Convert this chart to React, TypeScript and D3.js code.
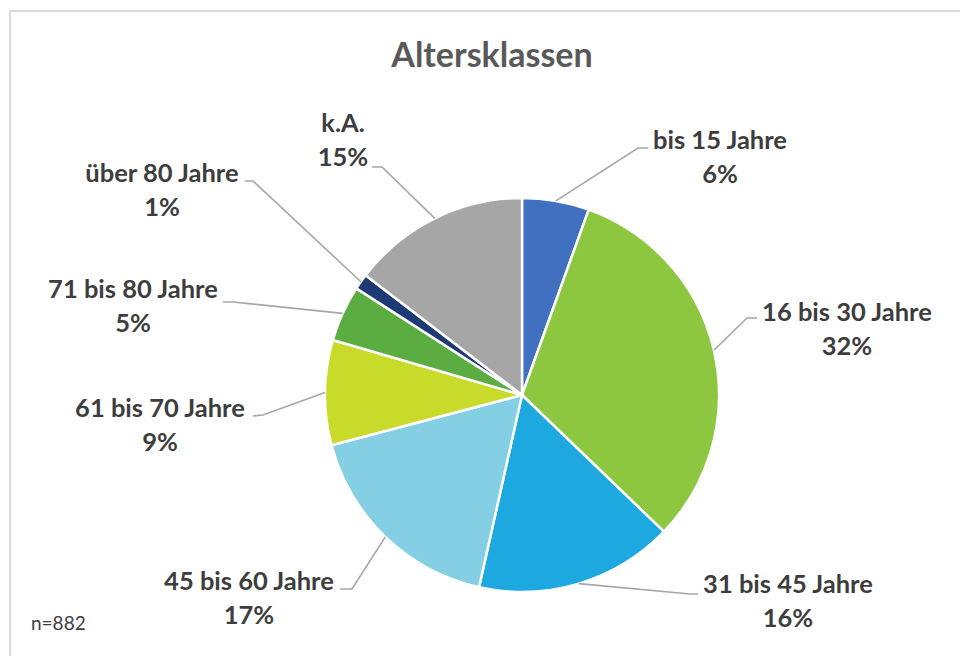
import React from "react";
import * as d3 from "d3";

const categories = [
  "bis 15 Jahre",
  "16 bis 30 Jahre",
  "31 bis 45 Jahre",
  "45 bis 60 Jahre",
  "61 bis 70 Jahre",
  "71 bis 80 Jahre",
  "über 80 Jahre",
  "k.A.",
];
const shares = [5.5, 31.7, 16.3, 17.4, 8.6, 4.6, 1.3, 14.6];
const colors = ["#4270C0", "#8DC63F", "#1EA8E0", "#84CFE3", "#C8DA2A", "#5BAD41", "#1E3A74", "#A6A6A6"];
const title = "Altersklassen";
const note = "n=882";

// label layout: text centre x, first baseline y, elbow, end of leader line
const labelLayout = [
  { tx: 720, ty: 149, elbow: [638, 148], end: [648, 148] },
  { tx: 847, ty: 321, elbow: [747, 318], end: [757, 318] },
  { tx: 788, ty: 593, elbow: [690, 594], end: [698, 594] },
  { tx: 249, ty: 590, elbow: [352, 589], end: [340, 589] },
  { tx: 160, ty: 417, elbow: [263, 415], end: [253, 416] },
  { tx: 133, ty: 298, elbow: [233, 302], end: [223, 302] },
  { tx: 162, ty: 182, elbow: [253, 181], end: [245, 181] },
  { tx: 343, ty: 132, elbow: [382, 167], end: [372, 167] },
];

const W = 960;
const H = 656;
const cx = 522;
const cy = 395;
const R = 197;

export default function App() {
  const pie = d3.pie<number>().sort(null).value((d) => d).startAngle(0).endAngle(2 * Math.PI);
  const arcs = pie(shares);
  const arc = d3.arc<d3.PieArcDatum<number>>().innerRadius(0).outerRadius(R);
  const total = d3.sum(shares);
  const font = "Lato, 'Open Sans', sans-serif";

  return (
    <svg
      width={W}
      height={H}
      style={{ position: "absolute", left: 0, top: 0, background: "#fff" }}
      fontFamily={font}
    >
      <rect x={0} y={0} width={W} height={H} fill="#fff" />
      <line x1={10} y1={11} x2={W} y2={11} stroke="#d9d9d9" strokeWidth={2} />
      <line x1={10} y1={11} x2={10} y2={H} stroke="#d9d9d9" strokeWidth={2} />
      <text x={492} y={67} textAnchor="middle" fontSize={34} fontWeight={700} fill="#595959">
        {title}
      </text>
      <g transform={`translate(${cx},${cy})`}>
        {arcs.map((a, i) => (
          <path key={i} d={arc(a) || ""} fill={colors[i]} stroke="#fff" strokeWidth={2.5} strokeLinejoin="round" />
        ))}
      </g>
      {arcs.map((a, i) => {
        const mid = (a.startAngle + a.endAngle) / 2;
        const sx = cx + R * Math.sin(mid);
        const sy = cy - R * Math.cos(mid);
        const L = labelLayout[i];
        const pts: [number, number][] = [[sx, sy], L.elbow as [number, number], L.end as [number, number]];
        const pct = Math.round((a.value / total) * 100) + "%";
        return (
          <g key={"l" + i}>
            <path d={d3.line()(pts) || ""} fill="none" stroke="#A6A6A6" strokeWidth={1.6} />
            <text x={L.tx} y={L.ty} textAnchor="middle" fontSize={25.5} fontWeight={700} fill="#3d3d3d">
              {categories[i]}
            </text>
            <text x={L.tx} y={L.ty + 34} textAnchor="middle" fontSize={25.5} fontWeight={700} fill="#3d3d3d">
              {pct}
            </text>
          </g>
        );
      })}
      <text x={31} y={630} fontSize={19} fill="#404040">
        {note}
      </text>
    </svg>
  );
}
